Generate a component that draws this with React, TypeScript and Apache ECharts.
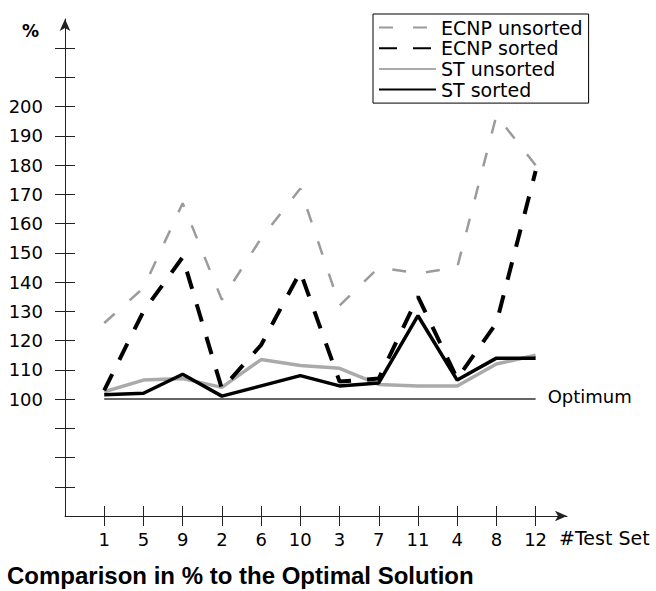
import React, { useEffect, useRef } from "react";
import * as echarts from "echarts";

const testSets = ["1", "5", "9", "2", "6", "10", "3", "7", "11", "4", "8", "12"];
const ecnpUnsorted = [126, 138, 167, 134, 155, 172, 132, 145, 143, 145, 197, 180];
const ecnpSorted = [103, 130, 148.5, 103.5, 118.5, 143.5, 106, 107, 135, 107, 126, 178];
const stUnsorted = [102.5, 106.5, 107, 104, 113.5, 111.5, 110.5, 105, 104.5, 104.5, 112, 115];
const stSorted = [101.5, 102, 108.5, 101, 104.5, 108, 104.5, 105.5, 128.5, 106.5, 114, 114];
const optimumValues = [100, 100, 100, 100, 100, 100, 100, 100, 100, 100, 100, 100];
const yTickValues = [70, 80, 90, 100, 110, 120, 130, 140, 150, 160, 170, 180, 190, 200, 210, 220];
const yLabelValues = [100, 110, 120, 130, 140, 150, 160, 170, 180, 190, 200];
const xPositions = [1, 2, 3, 4, 5, 6, 7, 8, 9, 10, 11, 12];

const FONT = "DejaVu Sans";

const toPoints = (vals: number[]) => vals.map((v, i) => [xPositions[i], v]);

export default function App() {
  const ref = useRef<HTMLDivElement>(null);
  useEffect(() => {
    if (!ref.current) return;
    const chart = echarts.init(ref.current, undefined, { renderer: "svg" });
    const axisLineStyle = { color: "#222", width: 1 };
    chart.setOption({
      animation: false,
      backgroundColor: "#fff",
      grid: { left: 65, right: 89, top: 19, bottom: 75 },
      title: {
        text: "Comparison in % to the Optimal Solution",
        left: 7,
        top: 563,
        padding: 0,
        textStyle: { fontFamily: "Liberation Sans", fontWeight: "bold", fontSize: 24, color: "#000" },
      },
      legend: {
        orient: "vertical",
        left: 373,
        top: 14,
        padding: [4, 6, 4, 5],
        itemGap: 1.7,
        itemWidth: 57,
        itemHeight: 14,
        borderColor: "#000",
        borderWidth: 1,
        backgroundColor: "#fff",
        itemStyle: { opacity: 0, borderWidth: 0 },
        data: ["ECNP unsorted", "ECNP sorted", "ST unsorted", "ST sorted"],
        textStyle: { fontFamily: FONT, fontSize: 19, color: "#000", lineHeight: 19, padding: [0, 0, 0, 0] },
      },
      xAxis: [
        {
          type: "value",
          min: 0,
          max: 12.8,
          position: "bottom",
          splitLine: { show: false },
          axisLine: { show: true, lineStyle: axisLineStyle, symbol: ["none", "arrow"], symbolSize: [8, 12] },
          axisTick: { show: true, length: 10, inside: false, lineStyle: axisLineStyle, customValues: xPositions },
          axisLabel: {
            show: true,
            margin: 14,
            customValues: xPositions,
            formatter: (v: number) => testSets[Math.round(v) - 1] ?? "",
            fontFamily: FONT,
            fontSize: 18,
            color: "#000",
          },
        },
        {
          type: "value",
          min: 0,
          max: 12.8,
          position: "bottom",
          offset: 0,
          splitLine: { show: false },
          axisLine: { show: false },
          axisTick: { show: true, length: 10, inside: true, lineStyle: axisLineStyle, customValues: xPositions },
          axisLabel: { show: false },
        },
      ],
      yAxis: [
        {
          type: "value",
          min: 60,
          max: 230,
          position: "left",
          splitLine: { show: false },
          axisLine: { show: true, lineStyle: axisLineStyle, symbol: ["none", "arrow"], symbolSize: [8, 12] },
          axisTick: { show: true, length: 10, inside: false, lineStyle: axisLineStyle, customValues: yTickValues },
          axisLabel: {
            show: true,
            margin: 22,
            customValues: yLabelValues,
            fontFamily: FONT,
            fontSize: 18,
            color: "#000",
            padding: [4, 0, 0, 0],
          },
        },
        {
          type: "value",
          min: 60,
          max: 230,
          position: "left",
          offset: 0,
          splitLine: { show: false },
          axisLine: { show: false },
          axisTick: { show: true, length: 10, inside: true, lineStyle: axisLineStyle, customValues: yTickValues },
          axisLabel: { show: false },
        },
      ],
      graphic: [
        {
          type: "text",
          left: 22,
          top: 22,
          style: { text: "%", font: `bold 17px "${FONT}"`, fill: "#000" },
        },
        {
          type: "text",
          left: 559,
          top: 528,
          style: { text: "#Test Set", font: `19px "${FONT}"`, fill: "#000" },
        },
      ],
      series: [
        {
          name: "Optimum",
          type: "line",
          data: toPoints(optimumValues),
          symbol: "none",
          lineStyle: { color: "#333", width: 1.5 },
          itemStyle: { color: "#333" },
          z: 1,
          endLabel: {
            show: true,
            formatter: () => "Optimum",
            distance: 12,
            offset: [0, -3],
            fontFamily: FONT,
            fontSize: 18,
            color: "#000",
          },
        },
        {
          name: "ECNP unsorted",
          type: "line",
          data: toPoints(ecnpUnsorted),
          symbol: "none",
          lineStyle: { color: "#9b9b9b", width: 2.5, type: [14, 20] },
          itemStyle: { color: "#9b9b9b" },
          z: 2,
        },
        {
          name: "ECNP sorted",
          type: "line",
          data: toPoints(ecnpSorted),
          symbol: "none",
          lineStyle: { color: "#000", width: 4, type: [18, 16] },
          itemStyle: { color: "#000" },
          z: 4,
        },
        {
          name: "ST unsorted",
          type: "line",
          data: toPoints(stUnsorted),
          symbol: "none",
          lineStyle: { color: "#aaaaaa", width: 3.5 },
          itemStyle: { color: "#aaaaaa" },
          z: 3,
        },
        {
          name: "ST sorted",
          type: "line",
          data: toPoints(stSorted),
          symbol: "none",
          lineStyle: { color: "#000", width: 3.5 },
          itemStyle: { color: "#000" },
          z: 5,
        },
      ],
    });
    return () => chart.dispose();
  }, []);
  return <div ref={ref} style={{ position: "fixed", left: 0, top: 0, width: 656, height: 591 }} />;
}
